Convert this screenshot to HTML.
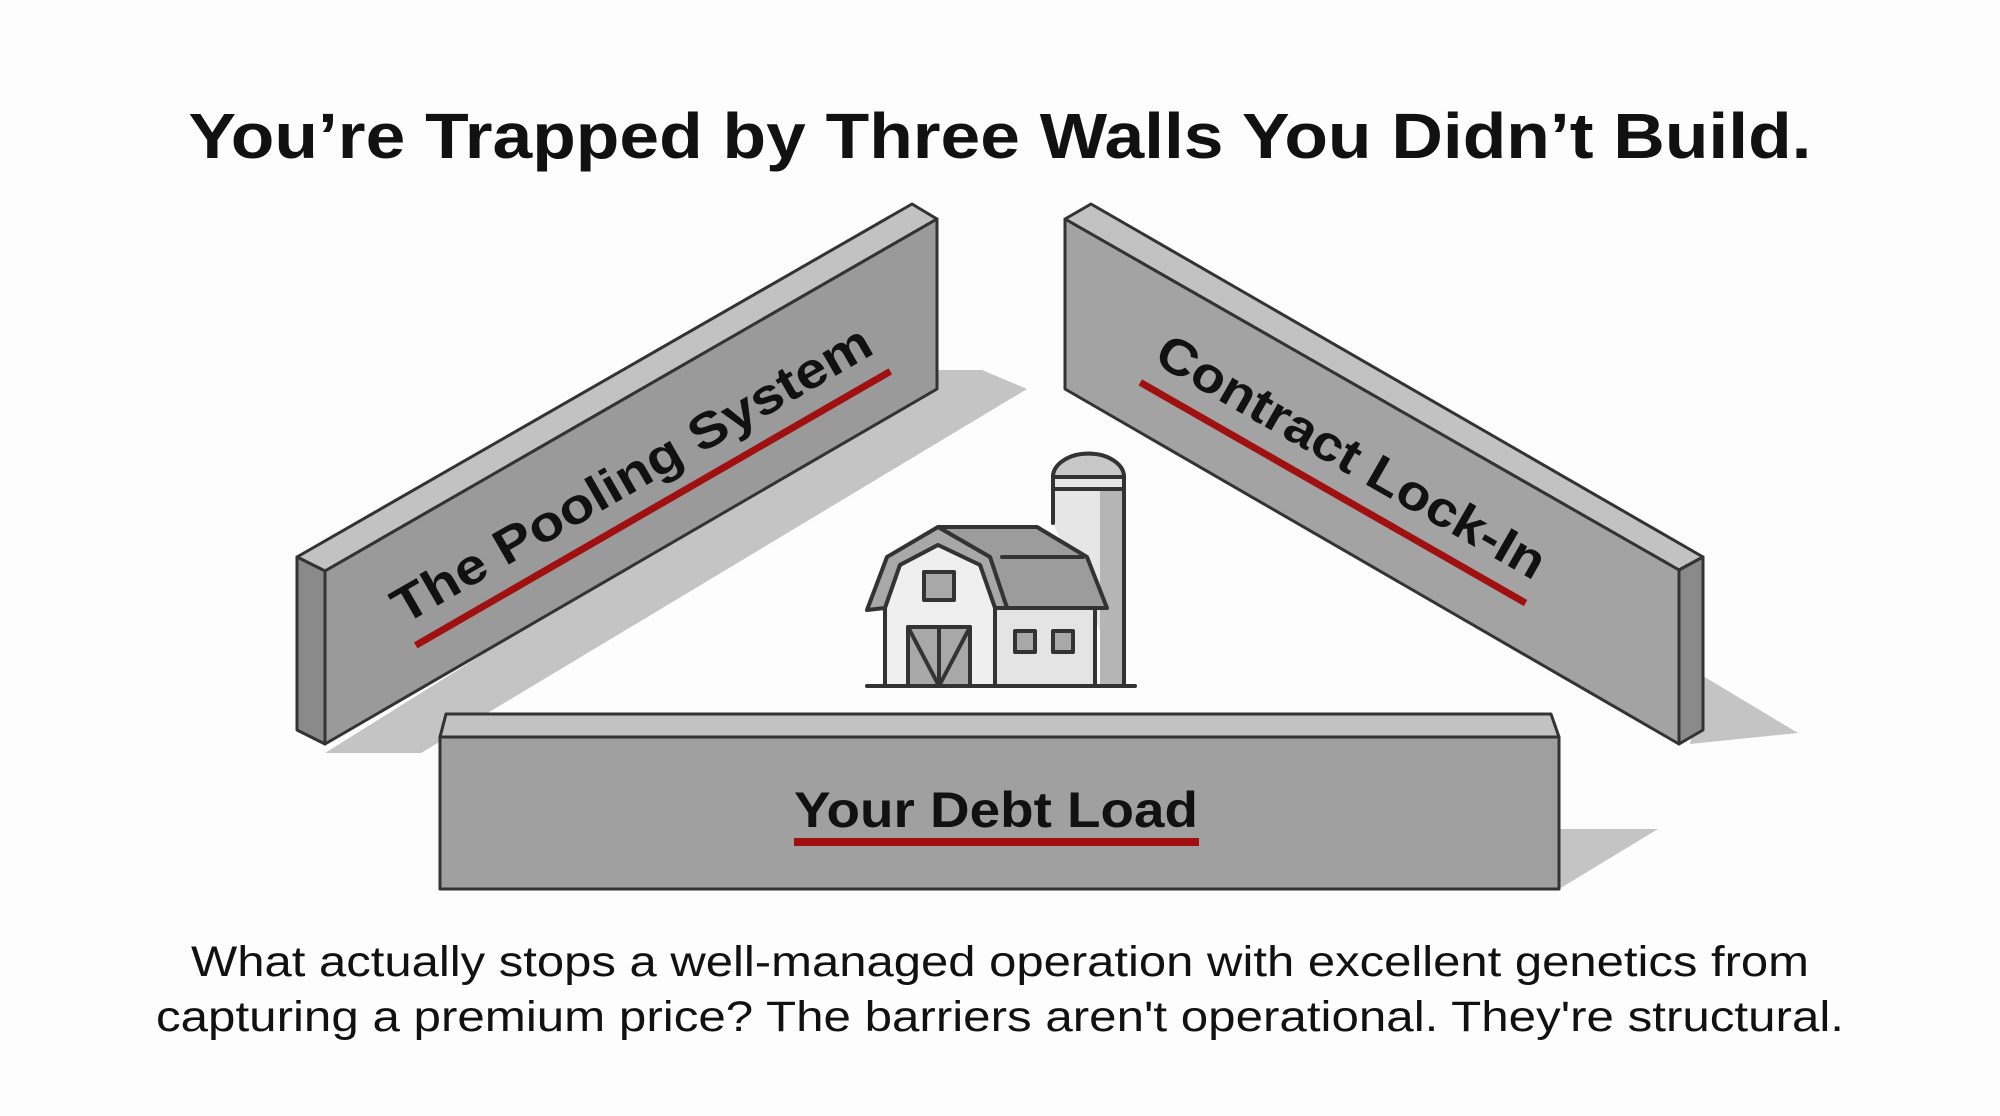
<!DOCTYPE html>
<html><head><meta charset="utf-8"><style>
html,body{margin:0;padding:0;background:#fdfdfd;}
svg{display:block;}
</style></head><body>
<svg width="2000" height="1116" viewBox="0 0 2000 1116" xmlns="http://www.w3.org/2000/svg">
<rect width="2000" height="1116" fill="#fdfdfd"/>
<text x="1000" y="158" text-anchor="middle" font-family="Liberation Sans, sans-serif" font-weight="bold" font-size="64" fill="#111" textLength="1623" lengthAdjust="spacingAndGlyphs">You’re Trapped by Three Walls You Didn’t Build.</text>

<!-- shadows -->
<polygon points="937,370 982,370 1027,389 421,753 325,753" fill="#c4c4c4"/>
<polygon points="1703,676 1798,733 1690,744" fill="#c4c4c4"/>
<polygon points="1559,829 1658,829 1559,889" fill="#c4c4c4"/>

<g stroke="#333" stroke-width="3" stroke-linejoin="round">
<polygon points="297,557 912,204 937,219 325,571" fill="#c2c2c2"/>
<polygon points="325,571 937,219 937,389 325,744" fill="#9a9a9a"/>
<polygon points="297,557 325,571 325,744 297,730" fill="#8a8a8a"/>
<polygon points="1091,204 1703,557 1679,570 1065,219" fill="#c2c2c2"/>
<polygon points="1065,219 1679,570 1679,744 1065,389" fill="#a3a3a3"/>
<polygon points="1679,570 1703,557 1703,730 1679,744" fill="#8a8a8a"/>
</g>

<g transform="translate(404,625) rotate(-30)">
<text x="0" y="0" font-family="Liberation Sans, sans-serif" font-weight="bold" font-size="50" fill="#111" textLength="545" lengthAdjust="spacingAndGlyphs">The Pooling System</text>
<rect x="0" y="20" width="548" height="7" fill="#a01010"/>
</g>
<g transform="translate(1152,362) rotate(29.8)">
<text x="0" y="0" font-family="Liberation Sans, sans-serif" font-weight="bold" font-size="50" fill="#111" textLength="440" lengthAdjust="spacingAndGlyphs">Contract Lock-In</text>
<rect x="0" y="20" width="444" height="7" fill="#a01010"/>
</g>

<g stroke="#333" stroke-width="4" stroke-linejoin="round" stroke-linecap="round">
<path d="M1053,523 L1053,477 A35,23 0 0 1 1124,477 L1124,686" fill="#e6e6e6"/>
<rect x="1100" y="489" width="22" height="196" fill="#b5b5b5" stroke="none"/>
<path d="M1053,489 L1124,489" fill="none"/>
<path d="M1053,477 A35,23 0 0 1 1124,477 Z" fill="#c8c8c8"/>
<polygon points="938,527 1037,527 1087,557 1107,608 1007,608 990,557" fill="#9c9c9c"/>
<line x1="1002" y1="557" x2="1083" y2="557"/>
<rect x="995" y="608" width="100" height="78" fill="#e4e4e4"/>
<polygon points="867,610 887,557 938,527 990,557 1007,608 995,608 980,565 938,545 900,565 885,608" fill="#a8a8a8"/>
<polygon points="885,608 900,565 938,545 980,565 995,608 995,686 885,686" fill="#efefef"/>
<rect x="924" y="572" width="30" height="28" fill="#a8a8a8"/>
<rect x="908" y="627" width="62" height="59" fill="#a8a8a8"/>
<path d="M939,627 L939,686 M908,627 L939,686 L970,627" fill="none"/>
<rect x="1015" y="631" width="20" height="21" fill="#a8a8a8"/>
<rect x="1053" y="631" width="20" height="21" fill="#a8a8a8"/>
<line x1="867" y1="686" x2="1135" y2="686"/>
</g>

<g stroke="#333" stroke-width="3" stroke-linejoin="round">
<polygon points="446,714 1551,714 1559,737 440,737" fill="#c2c2c2"/>
<rect x="440" y="737" width="1119" height="152" fill="#a0a0a0"/>
</g>
<text x="996" y="827" text-anchor="middle" font-family="Liberation Sans, sans-serif" font-weight="bold" font-size="50" fill="#111" textLength="404" lengthAdjust="spacingAndGlyphs">Your Debt Load</text>
<rect x="794" y="838" width="405" height="8" fill="#a01010"/>

<text x="1000" y="976" text-anchor="middle" font-family="Liberation Sans, sans-serif" font-size="43" fill="#111" textLength="1618" lengthAdjust="spacingAndGlyphs">What actually stops a well-managed operation with excellent genetics from</text>
<text x="1000" y="1031" text-anchor="middle" font-family="Liberation Sans, sans-serif" font-size="43" fill="#111" textLength="1688" lengthAdjust="spacingAndGlyphs">capturing a premium price? The barriers aren't operational. They're structural.</text>
</svg>
</body></html>
